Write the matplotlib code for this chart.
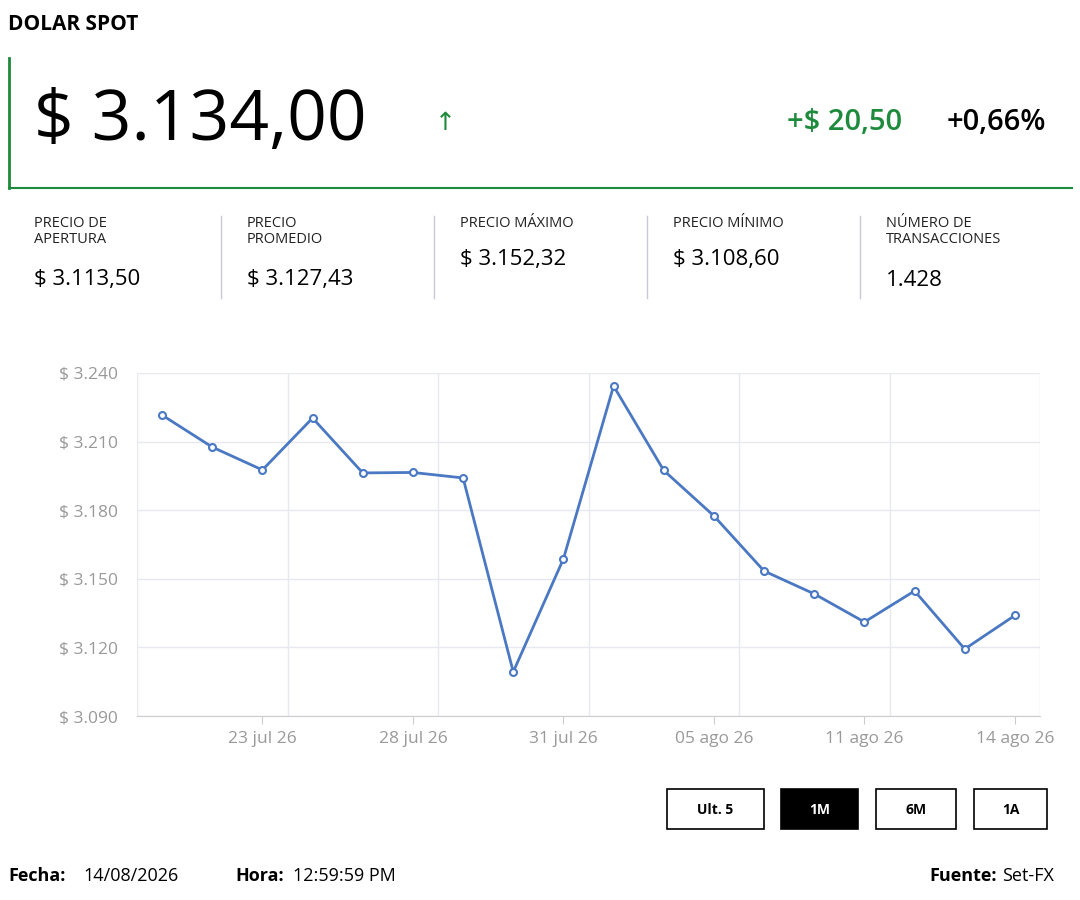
import matplotlib.pyplot as plt
from matplotlib.patches import Rectangle
from matplotlib.lines import Line2D

plt.rcParams['font.family'] = ['Open Sans', 'DejaVu Sans']

dates = ["21 jul 26", "22 jul 26", "23 jul 26", "24 jul 26", "27 jul 26", "28 jul 26",
         "29 jul 26", "30 jul 26", "31 jul 26", "03 ago 26", "04 ago 26", "05 ago 26",
         "06 ago 26", "10 ago 26", "11 ago 26", "12 ago 26", "13 ago 26", "14 ago 26"]
prices = [3221.6, 3207.6, 3197.6, 3220.3, 3196.3, 3196.5, 3194.1, 3109.3, 3158.7,
          3234.3, 3197.4, 3177.5, 3153.4, 3143.4, 3131.1, 3144.7, 3119.3, 3134.0]
y_ticks = [3090, 3120, 3150, 3180, 3210, 3240]
tick_idx = [2, 5, 8, 11, 14, 17]

stats_labels = ["PRECIO DE\nAPERTURA", "PRECIO\nPROMEDIO", "PRECIO MÁXIMO", "PRECIO MÍNIMO",
                "NÚMERO DE\nTRANSACCIONES"]
stats_values = ["$ 3.113,50", "$ 3.127,43", "$ 3.152,32", "$ 3.108,60", "1.428"]
buttons = ["Ult. 5", "1M", "6M", "1A"]

W, H = 1080, 900
fig = plt.figure(figsize=(10.8, 9), dpi=100)

def fx(x):
    return x / W

def fy(y):
    return 1 - y / H

green = "#1e8a3c"
fig.text(fx(8), fy(24), "DOLAR SPOT", fontsize=15, fontweight="bold", va="center")
fig.add_artist(Line2D([fx(9), fx(9)], [fy(58), fy(188)], color=green, lw=2))
fig.add_artist(Line2D([fx(9), fx(1072)], [fy(188), fy(188)], color=green, lw=1.5))
fig.text(fx(34), fy(122), "$ 3.134,00", fontsize=50, va="center")
fig.text(fx(445), fy(124), "↑", fontsize=18, color=green, va="center", ha="center")
fig.text(fx(902), fy(122), "+$ 20,50", fontsize=21, color=green, fontweight="semibold", va="center", ha="right")
fig.text(fx(1046), fy(122), "+0,66%", fontsize=21, fontweight="semibold", va="center", ha="right")

col_x = [34, 247, 460, 673, 886]
for i, (lab, val) in enumerate(zip(stats_labels, stats_values)):
    fig.text(fx(col_x[i]), fy(216), lab, fontsize=10.5, fontweight="medium", va="top",
             color="#222222", linespacing=1.05)
    vy = 280 if "\n" in lab else 260
    fig.text(fx(col_x[i]), fy(vy), val, fontsize=16, fontweight="medium", va="center")
    if i > 0:
        fig.add_artist(Line2D([fx(col_x[i] - 26)] * 2, [fy(216), fy(298)], color="#c8c8d8", lw=1))

ax = fig.add_axes([fx(137), fy(716), fx(1040 - 137), (716 - 373) / H])
x = list(range(len(prices)))
ax.plot(x, prices, color="#4a78c2", lw=2, marker="o", ms=5, mfc="white", mec="#4a78c2", mew=1.5)
ax.set_xlim(-0.5, 17.5)
ax.set_ylim(3090, 3240)
ax.set_yticks(y_ticks)
ax.set_yticklabels([f"$ {v // 1000}.{v % 1000:03d}" for v in y_ticks], color="#999999", fontsize=12.5)
ax.set_xticks(tick_idx)
ax.set_xticklabels([dates[i] for i in tick_idx], color="#999999", fontsize=12.5)
ax.set_xticks([-0.5 + 3 * k for k in range(7)], minor=True)
ax.grid(True, axis="y", color="#e6e9f0", lw=1)
ax.grid(True, axis="x", which="minor", color="#e6e9f0", lw=1)
for s in ["top", "right", "left"]:
    ax.spines[s].set_visible(False)
ax.spines["bottom"].set_color("#cccccc")
ax.tick_params(axis="y", length=0, pad=14)
ax.tick_params(axis="x", length=6, color="#cccccc", pad=5)
ax.tick_params(axis="x", which="minor", length=0)

bx = [667, 781, 876, 974]
bw = [97, 77, 80, 73]
for b, x0, w in zip(buttons, bx, bw):
    active = b == "1M"
    fig.add_artist(Rectangle((fx(x0), fy(829)), fx(w), 40 / H, facecolor="black" if active else "white",
                             edgecolor="black", lw=1.2))
    fig.text(fx(x0 + w / 2), fy(810), b, fontsize=10, fontweight="bold",
             color="white" if active else "black", ha="center", va="center")

fig.text(fx(8), fy(876), "Fecha:", fontsize=13, fontweight="bold", va="center")
fig.text(fx(83), fy(876), "14/08/2026", fontsize=13, va="center")
fig.text(fx(235), fy(876), "Hora:", fontsize=13, fontweight="bold", va="center")
fig.text(fx(293), fy(876), "12:59:59 PM", fontsize=13, va="center")
fig.text(fx(997), fy(876), "Fuente:", fontsize=13, fontweight="bold", va="center", ha="right")
fig.text(fx(1002), fy(876), "Set-FX", fontsize=13, va="center")

fig.savefig("out.png", dpi=100)
